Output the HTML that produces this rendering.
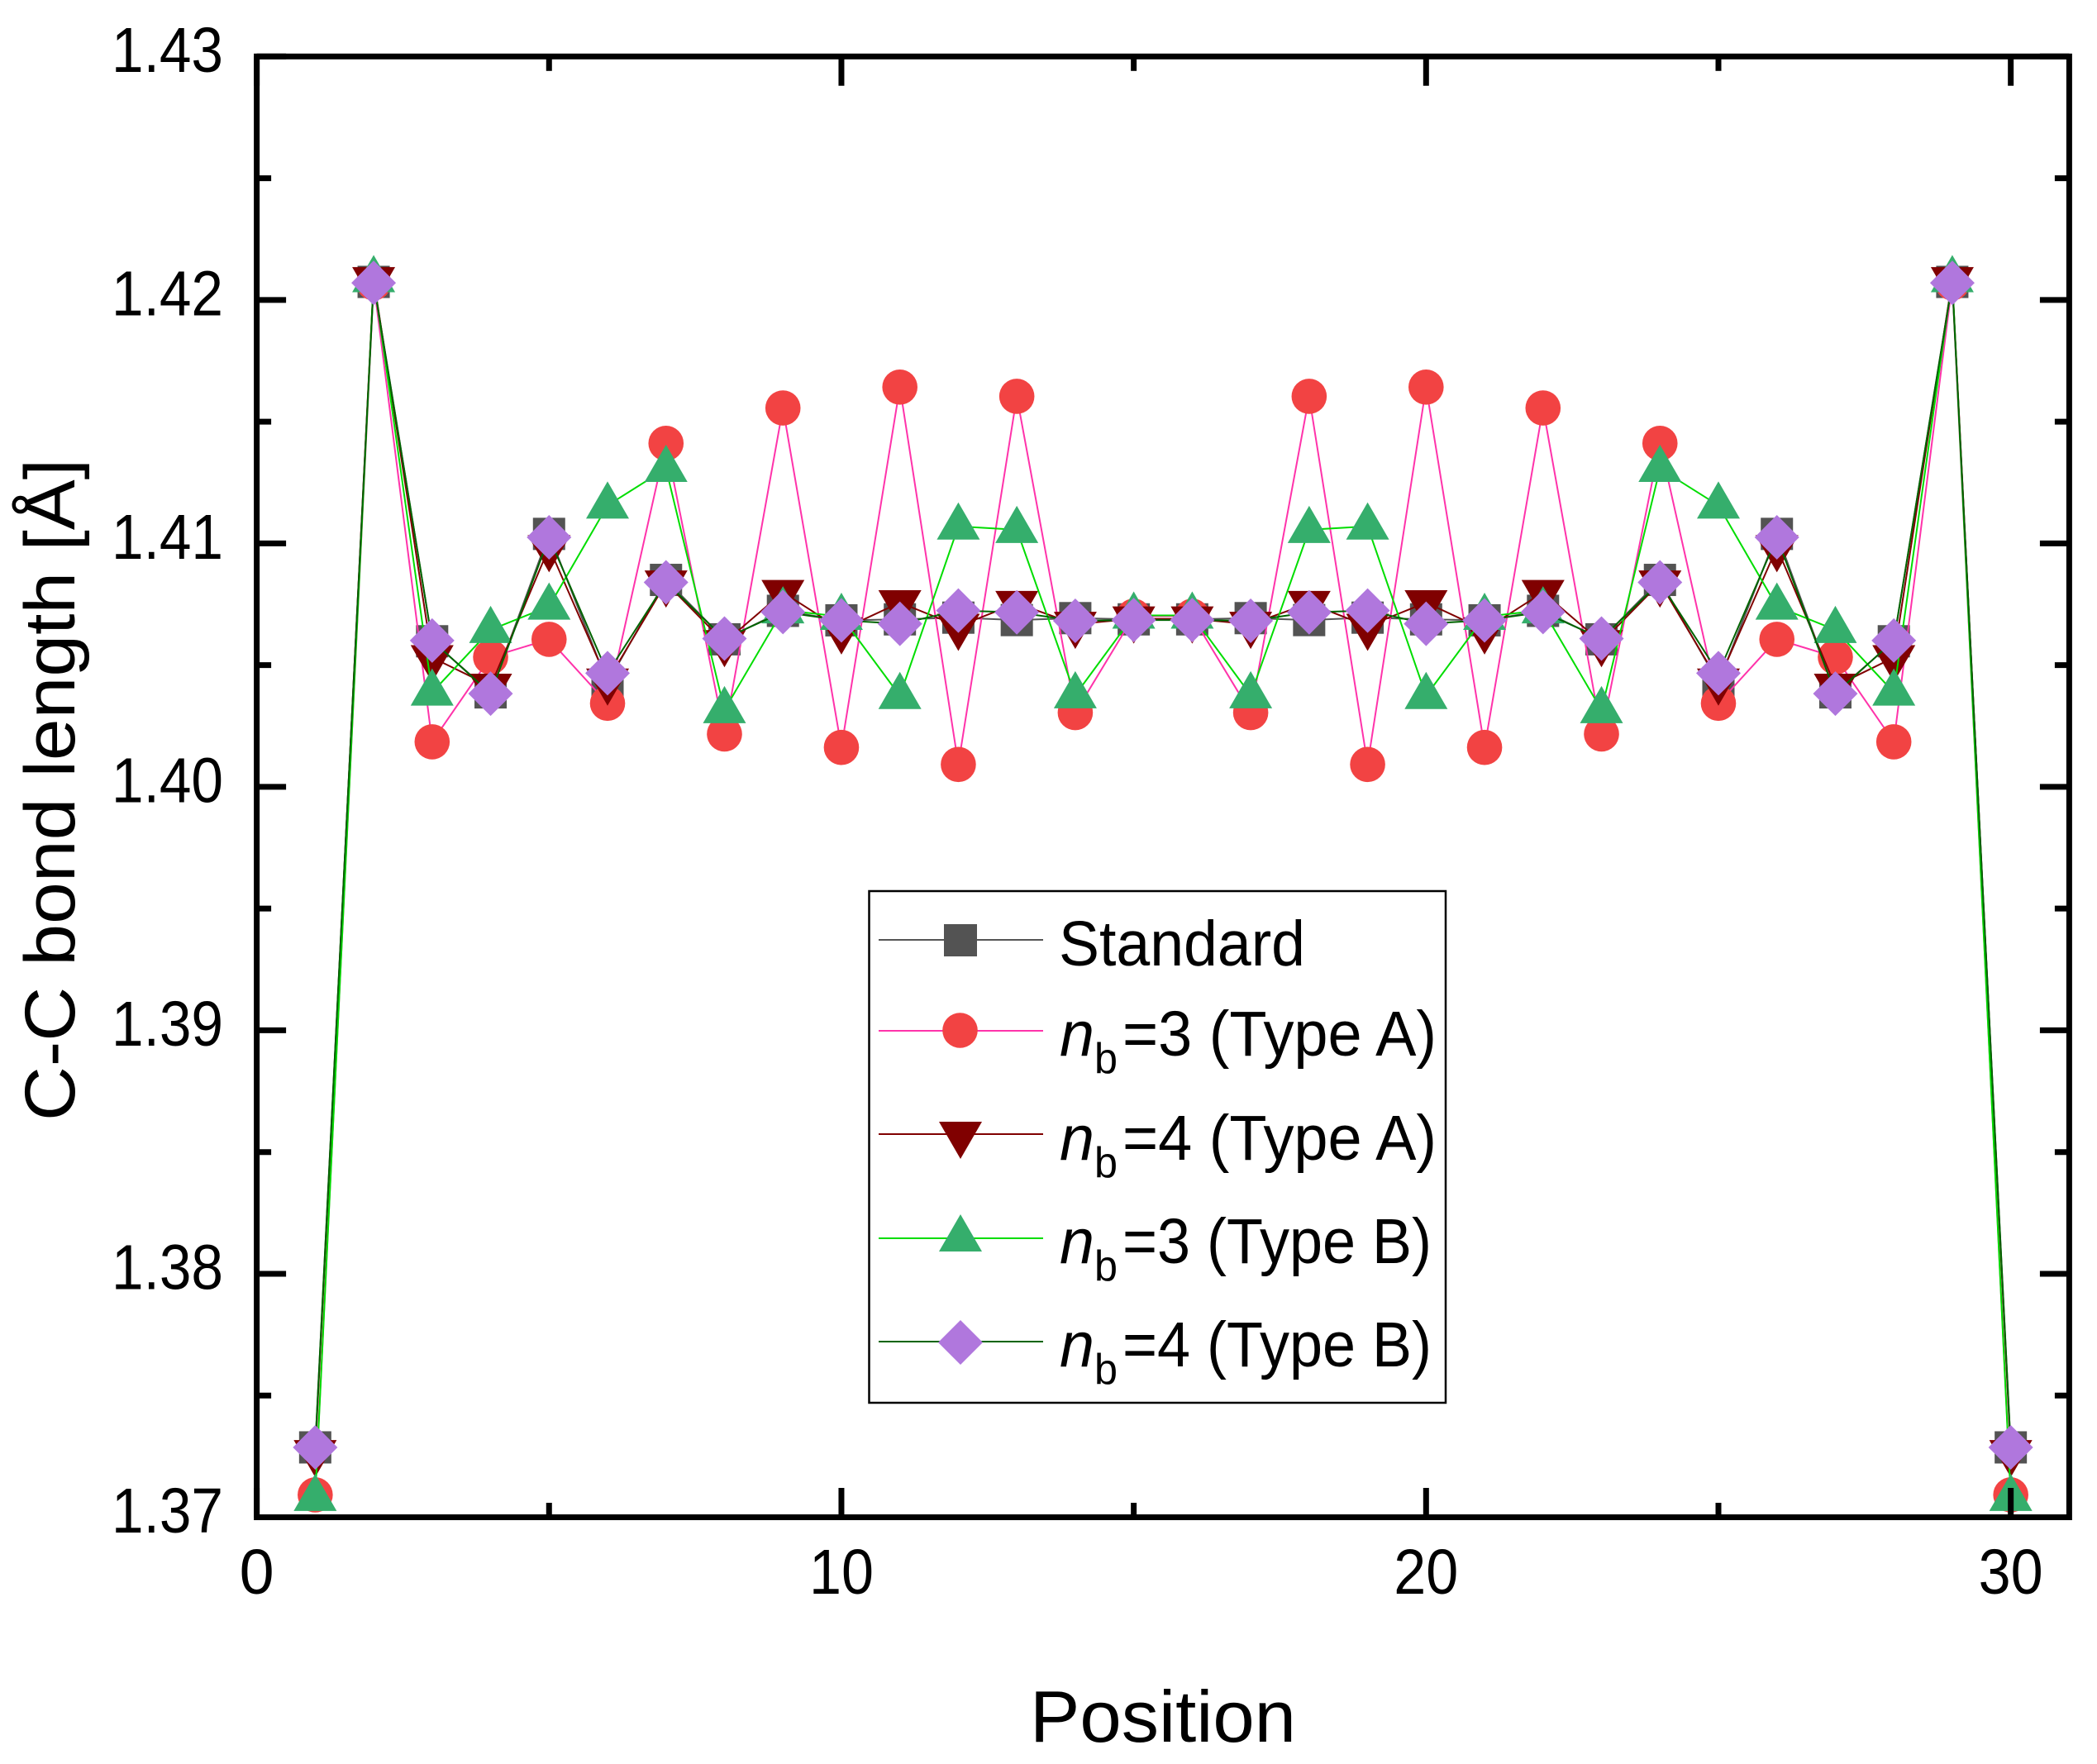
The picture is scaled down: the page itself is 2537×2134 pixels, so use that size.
<!DOCTYPE html>
<html lang="en">
<head>
<meta charset="utf-8">
<title>C-C bond length by position</title>
<style>
html,body{margin:0;padding:0;background:#fff;}
svg{display:block;}
text{font-family:"Liberation Sans",sans-serif;fill:#000;}
</style>
</head>
<body>
<svg id="chart" xmlns="http://www.w3.org/2000/svg" width="2537" height="2134" viewBox="0 0 2537 2134">
  <rect x="0" y="0" width="2537" height="2134" fill="#fff"/>
  <g id="series-layer"></g>
  <g id="axis-layer"></g>
  <text x="1246" y="2107" font-size="88" textLength="322" lengthAdjust="spacingAndGlyphs">Position</text>
  <text transform="translate(90 1356) rotate(-90)" x="0" y="0" font-size="86" textLength="801" lengthAdjust="spacingAndGlyphs">C-C bond length [Å]</text>

  <g id="legend">
    <rect x="1051.5" y="1078" width="697.5" height="619" fill="#fff" stroke="#000" stroke-width="2.5"/>

    <g>
      <line x1="1063" y1="1137" x2="1262" y2="1137" stroke="#555555" stroke-width="2"/>
      <rect x="1142" y="1118" width="40" height="39" fill="#535353"/>
      <text x="1281" y="1168" font-size="77" textLength="298" lengthAdjust="spacingAndGlyphs">Standard</text>
    </g>

    <g>
      <line x1="1063" y1="1247" x2="1262" y2="1247" stroke="#FF33AA" stroke-width="2"/>
      <circle cx="1161.5" cy="1246.5" r="21.3" fill="#F24343"/>
      <text x="1282" y="1277" font-size="77" font-style="italic" textLength="42" lengthAdjust="spacingAndGlyphs">n</text>
      <text x="1324" y="1298" font-size="52" textLength="28" lengthAdjust="spacingAndGlyphs">b</text>
      <text x="1358" y="1277" font-size="77" textLength="380" lengthAdjust="spacingAndGlyphs">=3 (Type A)</text>
    </g>

    <g>
      <line x1="1063" y1="1372" x2="1262" y2="1372" stroke="#800000" stroke-width="2"/>
      <polygon points="1136,1357 1188,1357 1162,1402" fill="#800000"/>
      <text x="1282" y="1403" font-size="77" font-style="italic" textLength="42" lengthAdjust="spacingAndGlyphs">n</text>
      <text x="1324" y="1424" font-size="52" textLength="28" lengthAdjust="spacingAndGlyphs">b</text>
      <text x="1358" y="1403" font-size="77" textLength="380" lengthAdjust="spacingAndGlyphs">=4 (Type A)</text>
    </g>

    <g>
      <line x1="1063" y1="1498" x2="1262" y2="1498" stroke="#00DD00" stroke-width="2"/>
      <polygon points="1162,1469 1188,1514 1136,1514" fill="#35AE6C"/>
      <text x="1282" y="1528" font-size="77" font-style="italic" textLength="42" lengthAdjust="spacingAndGlyphs">n</text>
      <text x="1324" y="1549" font-size="52" textLength="28" lengthAdjust="spacingAndGlyphs">b</text>
      <text x="1358" y="1528" font-size="77" textLength="374" lengthAdjust="spacingAndGlyphs">=3 (Type B)</text>
    </g>

    <g>
      <line x1="1063" y1="1623" x2="1262" y2="1623" stroke="#006400" stroke-width="2"/>
      <polygon points="1162,1597 1189,1624 1162,1651 1135,1624" fill="#B077DD"/>
      <text x="1282" y="1653" font-size="77" font-style="italic" textLength="42" lengthAdjust="spacingAndGlyphs">n</text>
      <text x="1324" y="1674" font-size="52" textLength="28" lengthAdjust="spacingAndGlyphs">b</text>
      <text x="1358" y="1653" font-size="77" textLength="374" lengthAdjust="spacingAndGlyphs">=4 (Type B)</text>
    </g>
  </g>
</svg>

<script>
const positions = [1,2,3,4,5,6,7,8,9,10,11,12,13,14,15,16,17,18,19,20,21,22,23,24,25,26,27,28,29,30];
const standardValues = [1.37287,1.42074,1.40598,1.40388,1.41039,1.40427,1.40850,1.40606,1.40723,1.40684,1.40688,1.40695,1.40685,1.40693,1.40688,1.40688,1.40693,1.40685,1.40695,1.40688,1.40684,1.40723,1.40606,1.40850,1.40427,1.41039,1.40388,1.40598,1.42074,1.37287];
const nb3TypeAValues = [1.37092,1.42070,1.40185,1.40533,1.40606,1.40343,1.41411,1.40217,1.41556,1.40162,1.41642,1.40092,1.41604,1.40305,1.40701,1.40701,1.40305,1.41604,1.40092,1.41642,1.40162,1.41556,1.40217,1.41411,1.40343,1.40606,1.40533,1.40185,1.42070,1.37092];
const nb4TypeAValues = [1.37266,1.42084,1.40531,1.40414,1.40983,1.40435,1.40838,1.40593,1.40799,1.40645,1.40757,1.40660,1.40754,1.40668,1.40690,1.40690,1.40668,1.40754,1.40660,1.40757,1.40645,1.40799,1.40593,1.40838,1.40435,1.40983,1.40414,1.40531,1.42084,1.37266];
const nb3TypeBValues = [1.37080,1.42086,1.40388,1.40645,1.40741,1.41156,1.41307,1.40316,1.40726,1.40699,1.40374,1.41070,1.41056,1.40377,1.40704,1.40704,1.40377,1.41056,1.41070,1.40374,1.40699,1.40726,1.40316,1.41307,1.41156,1.40741,1.40645,1.40388,1.42086,1.37080];
const nb4TypeBValues = [1.37287,1.42070,1.40601,1.40383,1.41025,1.40467,1.40840,1.40609,1.40718,1.40684,1.40670,1.40724,1.40717,1.40682,1.40685,1.40685,1.40682,1.40717,1.40724,1.40670,1.40684,1.40718,1.40609,1.40840,1.40467,1.41025,1.40383,1.40601,1.42070,1.37287];
const xMajorTicks = [0,10,20,30];
const xMinorTicks = [5,15,25];
const yMajorTicks = [1.37,1.38,1.39,1.40,1.41,1.42,1.43];
const yMinorTicks = [1.375,1.385,1.395,1.405,1.415,1.425];
const xTickLabels = ["0","10","20","30"];
const yTickLabels = ["1.37","1.38","1.39","1.40","1.41","1.42","1.43"];

const NS = "http://www.w3.org/2000/svg";
const plotLeft = 310.6, plotRight = 2503.4, plotTop = 68.3, plotBottom = 1835.5;
const xMin = 0, xMax = 31, yMin = 1.37, yMax = 1.43;
function xScale(v) { return plotLeft + (v - xMin) / (xMax - xMin) * (plotRight - plotLeft); }
function yScale(v) { return plotBottom - (v - yMin) / (yMax - yMin) * (plotBottom - plotTop); }

function make(tag, attrs, parent) {
  const el = document.createElementNS(NS, tag);
  for (const k in attrs) el.setAttribute(k, attrs[k]);
  parent.appendChild(el);
  return el;
}

const seriesLayer = document.getElementById("series-layer");
const axisLayer = document.getElementById("axis-layer");

function drawSeries(name, values, lineColor, markerColor, kind) {
  const g = make("g", {}, seriesLayer);
  
  
  const pts = positions.map(function (p, i) { return xScale(p).toFixed(2) + "," + yScale(values[i]).toFixed(2); }).join(" ");
  const line = make("polyline", { points: pts, fill: "none", stroke: lineColor, "stroke-width": 2 }, g);
  
  
  positions.forEach(function (p, i) {
    const x = xScale(p), y = yScale(values[i]);
    let m;
    if (kind === "square") {
      m = make("rect", { x: x - 19.5, y: y - 19.5, width: 39, height: 39, fill: markerColor }, g);
    } else if (kind === "circle") {
      m = make("circle", { cx: x, cy: y, r: 21.3, fill: markerColor }, g);
    } else if (kind === "down") {
      m = make("polygon", { points: (x - 26) + "," + (y - 15) + " " + (x + 26) + "," + (y - 15) + " " + x + "," + (y + 30), fill: markerColor }, g);
    } else if (kind === "up") {
      m = make("polygon", { points: x + "," + (y - 29) + " " + (x + 26) + "," + (y + 16) + " " + (x - 26) + "," + (y + 16), fill: markerColor }, g);
    } else {
      m = make("polygon", { points: x + "," + (y - 27) + " " + (x + 27) + "," + y + " " + x + "," + (y + 27) + " " + (x - 27) + "," + y, fill: markerColor }, g);
    }
    
    
  });
}

drawSeries("standard", standardValues, "#555555", "#535353", "square");
drawSeries("nb3-type-a", nb3TypeAValues, "#FF33AA", "#F24343", "circle");
drawSeries("nb4-type-a", nb4TypeAValues, "#800000", "#800000", "down");
drawSeries("nb3-type-b", nb3TypeBValues, "#00DD00", "#35AE6C", "up");
drawSeries("nb4-type-b", nb4TypeBValues, "#006400", "#B077DD", "diamond");

function tick(x1, y1, x2, y2, name) {
  const t = make("line", { x1: x1, y1: y1, x2: x2, y2: y2, stroke: "#000", "stroke-width": 7 }, axisLayer);
  
  
}
const majorLen = 35.5, minorLen = 17.5;
xMajorTicks.forEach(function (v) {
  const x = xScale(v);
  tick(x, plotBottom, x, plotBottom - majorLen, 'x-major-tick-bottom');
  tick(x, plotTop, x, plotTop + majorLen, 'x-major-tick-top');
});
xMinorTicks.forEach(function (v) {
  const x = xScale(v);
  tick(x, plotBottom, x, plotBottom - minorLen, 'x-minor-tick-bottom');
  tick(x, plotTop, x, plotTop + minorLen, 'x-minor-tick-top');
});
yMajorTicks.forEach(function (v) {
  const y = yScale(v);
  tick(plotLeft, y, plotLeft + majorLen, y, 'y-major-tick-left');
  tick(plotRight, y, plotRight - majorLen, y, 'y-major-tick-right');
});
yMinorTicks.forEach(function (v) {
  const y = yScale(v);
  tick(plotLeft, y, plotLeft + minorLen, y, 'y-minor-tick-left');
  tick(plotRight, y, plotRight - minorLen, y, 'y-minor-tick-right');
});

const frame = make("rect", { x: plotLeft, y: plotTop, width: plotRight - plotLeft, height: plotBottom - plotTop, fill: "none", stroke: "#000", "stroke-width": 7 }, axisLayer);



xMajorTicks.forEach(function (v, i) {
  const label = xTickLabels[i];
  const w = label.length > 1 ? 39 * label.length : 42;
  const t = make("text", { x: xScale(v) - w / 2, y: 1928, "font-size": 77, textLength: w, lengthAdjust: "spacingAndGlyphs" }, axisLayer);
  t.textContent = label;
  
  
});
yMajorTicks.forEach(function (v, i) {
  const t = make("text", { x: 135, y: yScale(v) + 18.5, "font-size": 77, textLength: 135, lengthAdjust: "spacingAndGlyphs" }, axisLayer);
  t.textContent = yTickLabels[i];
  
  
});
</script>
</body>
</html>
